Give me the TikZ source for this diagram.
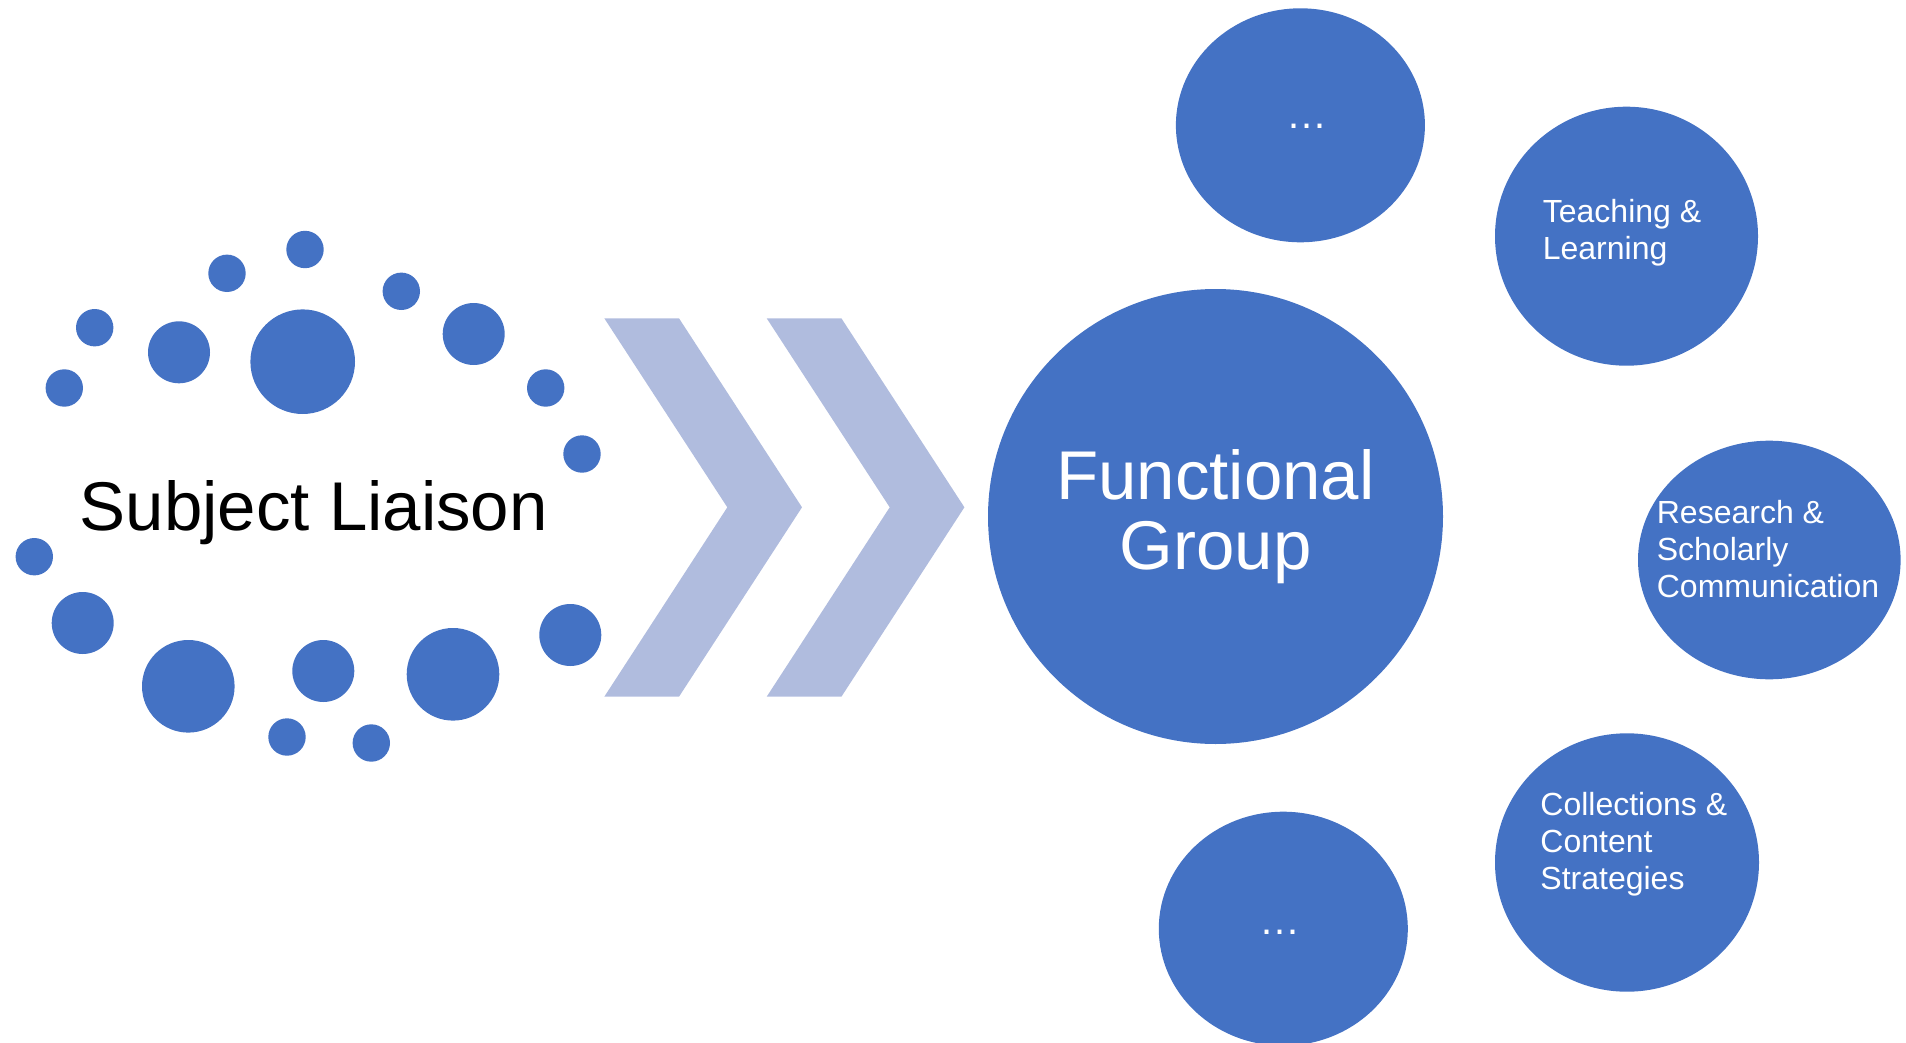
\documentclass[tikz,border=0pt]{standalone}
\usepackage{fontspec}
\setmainfont{Liberation Sans}
\usetikzlibrary{shapes}
\definecolor{dotblue}{HTML}{4472C4}
\definecolor{chevblue}{HTML}{B0BCDE}

\begin{document}
\begin{tikzpicture}[x=1pt,y=-1pt,
dot/.style={fill=dotblue},
chev/.style={fill=chevblue},
bubble/.style={ellipse, fill=dotblue, inner sep=0pt, text=white},
bigtext/.style={font=\fontsize{69}{70}\selectfont},
smalltext/.style={text=white, align=left, inner sep=0pt, font=\fontsize{32}{37}\selectfont},
moretext/.style={text=white, inner sep=0pt, font=\fontsize{41}{44}\selectfont},
]
\useasboundingbox (0,0) rectangle (1906,1043);
%dots round the liaison
\foreach \x/\y/\r in {94.7/327.7/18.7, 64.3/388/18.7, 179/352.3/31, 227/273.3/18.7,
  305/249.5/18.7, 302.7/361.7/52.3, 401.3/291.3/18.7, 473.7/334/31,
  545.7/388/18.7, 582/454/18.7, 34.3/556.7/18.7, 82.7/623/31,
  188.3/686.3/46.3, 287/737/18.7, 323.3/671/31, 453/674.3/46.3,
  371.3/743/18.7, 570.3/635/31}
  \fill[dot] (\x,\y) circle (\r);
\node (liaison) [bigtext, anchor=base, inner sep=0pt] at (313.8,530) {Subject Liaison};
%chevrons
\foreach \s in {0,162.4}
  \fill[chev, xshift=\s] (604.3,318.3)--(679,318.3)--(802,507.3)--(679,696.7)
    --(604.3,696.7)--(727.3,507.3)--cycle;
%functional group
\node (group) [bubble, bigtext, align=center, minimum width=455, minimum height=455] at (1215.5,516.5) {Functional\\Group};
%bubbles round the group
\node (topmore) [bubble, minimum width=249, minimum height=234] at (1300.4,125.3) {};
\node (teach) [bubble, minimum width=263, minimum height=259] at (1626.5,236.2) {};
\node (research) [bubble, minimum width=262.6, minimum height=238.6] at (1769.3,560) {};
\node (collect) [bubble, minimum width=264, minimum height=258.4] at (1627,862.5) {};
\node (bottommore) [bubble, minimum width=249, minimum height=234] at (1283.3,928.7) {};
%texts of the bubbles
\node (topmoretext) [moretext] at ([shift={(6.6,1.4)}]topmore.center) {…};
\node (teachtext) [smalltext] at ([shift={(-4.5,-3.3)}]teach.center) {Teaching \&\\Learning};
\node (researchtext) [smalltext] at ([shift={(-1.3,-11)}]research.center) {Research \&\\Scholarly\\Communication};
\node (collecttext) [smalltext] at ([shift={(6.8,-18.5)}]collect.center) {Collections \&\\Content\\Strategies};
\node (bottommoretext) [moretext] at ([shift={(-3.5,4)}]bottommore.center) {…};
\end{tikzpicture}
\end{document}
